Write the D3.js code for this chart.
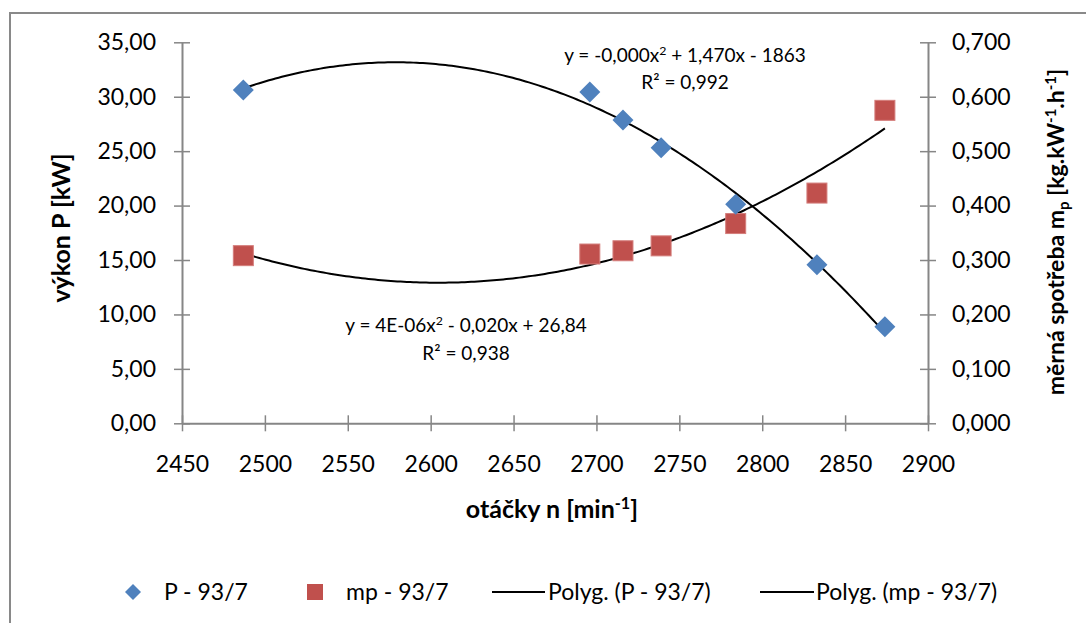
<!DOCTYPE html>
<html>
<head>
<meta charset="utf-8">
<script src="https://cdn.jsdelivr.net/npm/d3@7"></script>
<style>
  body { margin: 0; background: #fff; }
  svg { display: block; font-family: Lato, "Noto Sans", sans-serif; }
</style>
</head>
<body>
<div id="chart"></div>
<script>
// data
const rpm = [2487, 2696, 2716, 2739, 2784, 2833, 2874];
const power = [30.62, 30.44, 27.87, 25.32, 20.12, 14.57, 8.87];
const consumption = [0.308, 0.311, 0.317, 0.326, 0.367, 0.423, 0.575];

const xTicks = [2450, 2500, 2550, 2600, 2650, 2700, 2750, 2800, 2850, 2900];
const leftTicks = [0, 5, 10, 15, 20, 25, 30, 35];
const rightTicks = [0, 0.1, 0.2, 0.3, 0.4, 0.5, 0.6, 0.7];

const legendNames = ["P - 93/7", "mp - 93/7", "Polyg. (P - 93/7)", "Polyg. (mp - 93/7)"];
const eqPowerText = [["y = -0,000x"], ["2", "sup"], [" + 1,470x - 1863", "back-sup"]];
const r2PowerText = [["R² = 0,992"]];
const eqConsText = [["y = 4E-06x"], ["2", "sup"], [" - 0,020x + 26,84", "back-sup"]];
const r2ConsText = [["R² = 0,938"]];

const blue = '#4F81BD';
const red = '#C0504D';
const axisColor = '#868686';

const width = 1086;
const height = 623;
let dimensions = {
  left: 182,
  right: 928,
  top: 42.3,
  bottom: 423.3,
};

const locale = d3.formatLocale({ decimal: ",", thousands: " ", grouping: [3], currency: ["", ""] });

// least squares quadratic, same thing the spreadsheet trendline does
const fitQuadratic = (xs, ys) => {
  const m = d3.mean(xs);
  const u = xs.map(x => x - m);
  const s = k => d3.sum(u, v => Math.pow(v, k));
  const t = k => d3.sum(u, (v, i) => Math.pow(v, k) * ys[i]);
  const A = [[xs.length, s(1), s(2)], [s(1), s(2), s(3)], [s(2), s(3), s(4)]];
  const b = [t(0), t(1), t(2)];
  // gaussian elimination
  for (let i = 0; i < 3; i++) {
    for (let j = i + 1; j < 3; j++) {
      const f = A[j][i] / A[i][i];
      for (let k = i; k < 3; k++) A[j][k] -= f * A[i][k];
      b[j] -= f * b[i];
    }
  }
  const c = [0, 0, 0];
  for (let i = 2; i >= 0; i--) {
    let acc = b[i];
    for (let k = i + 1; k < 3; k++) acc -= A[i][k] * c[k];
    c[i] = acc / A[i][i];
  }
  return x => c[0] + c[1] * (x - m) + c[2] * (x - m) * (x - m);
}

const richText = (sel, parts) => {
  parts.forEach(([str, kind]) => {
    const ts = sel.append('tspan').text(str);
    if (kind === 'sup') ts.attr('dy', '-0.55em').attr('font-size', '0.65em');
    if (kind === 'sub') ts.attr('dy', '0.3em').attr('font-size', '0.65em');
    if (kind === 'back-sup') ts.attr('dy', '0.36em');
    if (kind === 'back-sub') ts.attr('dy', '-0.2em');
  });
}

function drawChart() {
  const svg = d3.select('#chart').append('svg')
    .attr('width', width)
    .attr('height', height);

  // chart frame (runs off the picture on right and bottom)
  svg.append('rect')
    .attr('x', 10).attr('y', 13)
    .attr('width', 1100).attr('height', 700)
    .attr('fill', '#fff')
    .attr('stroke', '#898989')
    .attr('stroke-width', 2);

  const xScaler = d3.scaleLinear()
    .domain([2450, 2900])
    .range([dimensions.left, dimensions.right]);
  const yLeft = d3.scaleLinear()
    .domain([0, 35])
    .range([dimensions.bottom, dimensions.top]);
  const yRight = d3.scaleLinear()
    .domain([0, 0.7])
    .range([dimensions.bottom, dimensions.top]);

  const styleAxis = (g, cross) => {
    g.select('.domain').attr('stroke', axisColor).attr('stroke-width', 2);
    g.selectAll('.tick line').attr('stroke', axisColor).attr('stroke-width', 1.5);
    cross(g.selectAll('.tick line'));
    g.selectAll('.tick text')
      .attr('fill', '#000')
      .attr('font-size', 23)
      .attr('font-family', 'Lato, "Noto Sans", sans-serif');
  }

  const xAxis = svg.append('g')
    .attr('transform', `translate(0,${dimensions.bottom})`)
    .call(d3.axisBottom(xScaler).tickValues(xTicks).tickSizeOuter(0).tickPadding(26).tickFormat(d3.format('d')));
  styleAxis(xAxis, l => l.attr('y1', -8).attr('y2', 8));

  const leftAxis = svg.append('g')
    .attr('transform', `translate(${dimensions.left},0)`)
    .call(d3.axisLeft(yLeft).tickValues(leftTicks).tickSizeOuter(0).tickPadding(20).tickFormat(locale.format('.2f')));
  styleAxis(leftAxis, l => l.attr('x1', -8).attr('x2', 8));

  const rightAxis = svg.append('g')
    .attr('transform', `translate(${dimensions.right},0)`)
    .call(d3.axisRight(yRight).tickValues(rightTicks).tickSizeOuter(0).tickPadding(18).tickFormat(locale.format('.3f')));
  styleAxis(rightAxis, l => l.attr('x1', -8).attr('x2', 8));

  // trendlines
  const fitP = fitQuadratic(rpm, power);
  const fitM = fitQuadratic(rpm, consumption);
  const xs = d3.range(0, 201).map(i => d3.min(rpm) + (d3.max(rpm) - d3.min(rpm)) * i / 200);

  svg.append('path')
    .datum(xs)
    .attr('fill', 'none')
    .attr('stroke', '#000')
    .attr('stroke-width', 2)
    .attr('d', d3.line().x(d => xScaler(d)).y(d => yLeft(fitP(d))));

  svg.append('path')
    .datum(xs)
    .attr('fill', 'none')
    .attr('stroke', '#000')
    .attr('stroke-width', 2)
    .attr('d', d3.line().x(d => xScaler(d)).y(d => yRight(fitM(d))));

  // markers
  const pointsP = rpm.map((x, i) => ({ x, y: power[i] }));
  const pointsM = rpm.map((x, i) => ({ x, y: consumption[i] }));

  svg.append('g').selectAll('rect')
    .data(pointsM)
    .enter()
    .append('rect')
    .attr('x', d => xScaler(d.x) - 10)
    .attr('y', d => yRight(d.y) - 10)
    .attr('width', 20)
    .attr('height', 20)
    .attr('fill', red)
    .attr('stroke', '#d47d7b')
    .attr('stroke-width', 1);

  svg.append('g').selectAll('path')
    .data(pointsP)
    .enter()
    .append('path')
    .attr('transform', d => `translate(${xScaler(d.x)},${yLeft(d.y)})`)
    .attr('d', 'M0,-10.5L10.5,0L0,10.5L-10.5,0Z')
    .attr('fill', blue);

  // trendline equations
  const eq = (x, y, parts) => {
    const t = svg.append('text')
      .attr('x', x).attr('y', y)
      .attr('text-anchor', 'middle')
      .attr('font-size', 19);
    richText(t, parts);
  }
  eq(685, 62, eqPowerText);
  eq(685, 89, r2PowerText);
  eq(466, 332, eqConsText);
  eq(466, 360, r2ConsText);

  // axis titles
  const xTitle = svg.append('text')
    .attr('x', 552).attr('y', 518)
    .attr('text-anchor', 'middle')
    .attr('font-size', 25)
    .attr('font-weight', 'bold');
  richText(xTitle, [["otáčky n [min"], ["-1", "sup"], ["]", "back-sup"]]);

  const yTitle = svg.append('text')
    .attr('transform', 'translate(70,228) rotate(-90)')
    .attr('text-anchor', 'middle')
    .attr('font-size', 25)
    .attr('font-weight', 'bold');
  richText(yTitle, [["výkon P [kW]"]]);

  const rTitle = svg.append('text')
    .attr('transform', 'translate(1064,232) rotate(-90)')
    .attr('text-anchor', 'middle')
    .attr('font-size', 23)
    .attr('font-weight', 'bold');
  richText(rTitle, [["měrná spotřeba m"], ["p", "sub"], [" [kg.kW", "back-sub"], ["-1", "sup"], [".h", "back-sup"], ["-1", "sup"], ["]", "back-sup"]]);

  // legend
  const legend = svg.append('g').attr('font-size', 23);
  const ly = 592;
  legend.append('path')
    .attr('transform', `translate(133,${ly})`)
    .attr('d', 'M0,-8L8,0L0,8L-8,0Z')
    .attr('fill', blue);
  legend.append('rect')
    .attr('x', 307).attr('y', ly - 8)
    .attr('width', 16).attr('height', 16)
    .attr('fill', red);
  legend.append('line')
    .attr('x1', 492).attr('x2', 545)
    .attr('y1', ly).attr('y2', ly)
    .attr('stroke', '#000').attr('stroke-width', 2);
  legend.append('line')
    .attr('x1', 760).attr('x2', 814)
    .attr('y1', ly).attr('y2', ly)
    .attr('stroke', '#000').attr('stroke-width', 2);

  const legendX = [164, 346, 548, 816];
  legend.selectAll('text')
    .data(legendNames)
    .enter()
    .append('text')
    .attr('x', (d, i) => legendX[i])
    .attr('y', ly + 8)
    .text(d => d);
}

drawChart();
</script>
</body>
</html>
